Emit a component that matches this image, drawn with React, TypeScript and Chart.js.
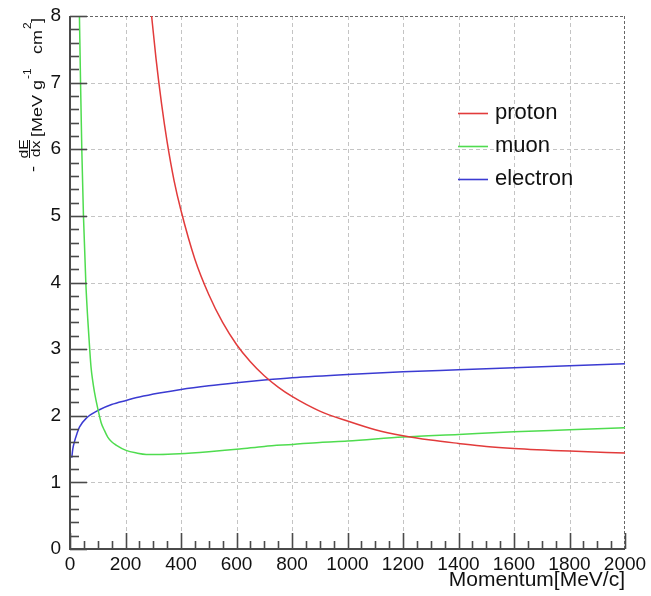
import React, { useEffect, useRef } from 'react';
import { Chart, registerables } from 'chart.js';

Chart.register(...registerables);

// ---- data ----
const protonP = [290, 310, 330, 350, 375, 400, 450, 500, 550, 600, 650, 700, 750, 800, 900, 1000, 1100, 1200, 1300, 1400, 1500, 1600, 1800, 2000];
const protonDEdx = [8.17, 7.36, 6.68, 6.11, 5.53, 5.08, 4.35, 3.82, 3.4, 3.07, 2.81, 2.6, 2.43, 2.29, 2.07, 1.92, 1.79, 1.7, 1.635, 1.585, 1.54, 1.51, 1.47, 1.44];

const muonP = [34, 38, 42.5, 48.5, 57, 64, 71, 76, 82, 88, 100, 112, 124, 136, 150, 166, 202, 240, 275, 322, 395, 500, 611, 700, 803, 900, 1000, 1200, 1400, 1600, 1800, 2000];
const muonDEdx = [8.0, 7.0, 6.0, 5.0, 4.0, 3.45, 3.0, 2.72, 2.52, 2.36, 2.11, 1.9, 1.78, 1.68, 1.61, 1.56, 1.48, 1.44, 1.42, 1.42, 1.43, 1.46, 1.5, 1.54, 1.57, 1.6, 1.62, 1.68, 1.72, 1.76, 1.79, 1.82];

const electronP = [6.5, 10, 16, 25, 34, 58, 106, 150, 202, 250, 322, 400, 500, 600, 700, 800, 1000, 1200, 1400, 1600, 1800, 2000];
const electronDEdx = [1.37, 1.5, 1.61, 1.73, 1.83, 1.96, 2.09, 2.17, 2.23, 2.28, 2.34, 2.395, 2.45, 2.495, 2.535, 2.57, 2.62, 2.66, 2.69, 2.72, 2.75, 2.78];

const seriesLabels = ['proton', 'muon', 'electron'];
const seriesColors = ['#e23b3b', '#4fdc4f', '#3b3bd2'];

const xMin = 0, xMax = 2000, xMajor = 200, xMinor = 50;
const yMin = 0, yMax = 8, yMajor = 1, yMinor = 0.2;

const FONT = '"Liberation Sans", Arial, Helvetica, sans-serif';

const toPts = (xs: number[], ys: number[]) => xs.map((x, i) => ({ x, y: ys[i] }));

const rootFrame = {
  id: 'rootFrame',
  beforeDatasetsDraw(chart: any) {
    const { ctx, chartArea: a, scales } = chart;
    const x = scales.x, y = scales.y;
    ctx.save();
    ctx.lineWidth = 1;
    ctx.strokeStyle = '#c4c4c4';
    ctx.setLineDash([4, 3]);
    for (let v = xMin + xMajor; v < xMax; v += xMajor) {
      const px = Math.round(x.getPixelForValue(v)) + 0.5;
      ctx.beginPath(); ctx.moveTo(px, a.top); ctx.lineTo(px, a.bottom); ctx.stroke();
    }
    for (let v = yMin + yMajor; v < yMax; v += yMajor) {
      const py = Math.round(y.getPixelForValue(v)) + 0.5;
      ctx.beginPath(); ctx.moveTo(a.left, py); ctx.lineTo(a.right, py); ctx.stroke();
    }
    ctx.strokeStyle = '#666';
    ctx.setLineDash([3, 2]);
    const top = Math.round(y.getPixelForValue(yMax)) + 0.5;
    const right = Math.round(x.getPixelForValue(xMax)) - 0.5;
    ctx.beginPath(); ctx.moveTo(a.left, top); ctx.lineTo(a.right, top); ctx.stroke();
    ctx.beginPath(); ctx.moveTo(right, a.top); ctx.lineTo(right, a.bottom); ctx.stroke();
    ctx.restore();
  },
  afterDatasetsDraw(chart: any) {
    const { ctx, chartArea: a, scales } = chart;
    const x = scales.x, y = scales.y;
    ctx.save();
    ctx.setLineDash([]);
    ctx.strokeStyle = '#4a4a4a';
    ctx.lineWidth = 2;
    const left = Math.round(x.getPixelForValue(xMin));
    const bottom = Math.round(y.getPixelForValue(yMin));
    ctx.beginPath(); ctx.moveTo(left, a.top); ctx.lineTo(left, bottom); ctx.lineTo(a.right, bottom); ctx.stroke();
    ctx.lineWidth = 1.6;
    for (let i = 0; i <= Math.round((yMax - yMin) / yMinor); i++) {
      const v = yMin + i * yMinor;
      const isMajor = Math.abs(v / yMajor - Math.round(v / yMajor)) < 1e-6;
      const py = Math.round(y.getPixelForValue(v)) + 0.5;
      ctx.beginPath(); ctx.moveTo(left, py); ctx.lineTo(left + (isMajor ? 17 : 9), py); ctx.stroke();
    }
    for (let i = 0; i <= Math.round((xMax - xMin) / xMinor); i++) {
      const v = xMin + i * xMinor;
      const isMajor = v % xMajor === 0;
      const px = Math.round(x.getPixelForValue(v)) + 0.5;
      ctx.beginPath(); ctx.moveTo(px, bottom); ctx.lineTo(px, bottom - (isMajor ? 16 : 8)); ctx.stroke();
    }
    ctx.restore();
  },
  afterDraw(chart: any) {
    const { ctx } = chart;
    ctx.save();
    const rows = [113, 146, 179];
    chart.data.datasets.forEach((ds: any, i: number) => {
      ctx.strokeStyle = ds.borderColor;
      ctx.lineWidth = 1.6;
      ctx.beginPath(); ctx.moveTo(458, rows[i] + 0.5); ctx.lineTo(488, rows[i] + 0.5); ctx.stroke();
      ctx.fillStyle = '#111';
      ctx.font = `22px ${FONT}`;
      ctx.textBaseline = 'middle';
      ctx.textAlign = 'left';
      ctx.fillText(ds.label, 495, rows[i]);
    });
    ctx.restore();

    // y-axis title:  - dE/dx [MeV g^-1 cm^2]
    ctx.save();
    ctx.translate(41.5, 172);
    ctx.rotate(-Math.PI / 2);
    ctx.fillStyle = '#111';
    ctx.strokeStyle = '#111';
    ctx.textBaseline = 'alphabetic';
    const sx = 1.2;
    const put = (text: string, u: number, v: number, size: number, align: CanvasTextAlign = 'left') => {
      ctx.save();
      ctx.translate(u, v);
      ctx.scale(sx, 1);
      ctx.font = `${size}px ${FONT}`;
      ctx.textAlign = align;
      ctx.fillText(text, 0, 0);
      const w = ctx.measureText(text).width * sx;
      ctx.restore();
      return w;
    };
    put('-', 0, -4, 15);
    put('dE', 23, -13.5, 13, 'center');
    put('dx', 23, -1.5, 13, 'center');
    ctx.lineWidth = 1;
    ctx.beginPath(); ctx.moveTo(14, -12); ctx.lineTo(32, -12); ctx.stroke();
    let u = 35;
    u += put('[MeV g', u, 0, 15);
    u += 1;
    u += put('-1', u, -10.5, 10);
    u = 118;
    u += put('cm', u, 0, 15);
    u += 1;
    put('2', u, -10.5, 10);
    put(']', u + 6, 0, 15);
    ctx.restore();
  },
};

export default function App() {
  const ref = useRef<HTMLCanvasElement>(null);
  useEffect(() => {
    document.body.style.margin = '0';
    const canvas = ref.current!;
    const chart = new Chart(canvas, {
      type: 'line',
      data: {
        datasets: [
          { label: seriesLabels[0], data: toPts(protonP, protonDEdx), borderColor: seriesColors[0] },
          { label: seriesLabels[1], data: toPts(muonP, muonDEdx), borderColor: seriesColors[1] },
          { label: seriesLabels[2], data: toPts(electronP, electronDEdx), borderColor: seriesColors[2] },
        ].map((d) => ({
          ...d,
          borderWidth: 1.5,
          pointRadius: 0,
          fill: false,
          cubicInterpolationMode: 'monotone' as const,
        })),
      },
      options: {
        responsive: false,
        animation: false,
        events: [],
        layout: { padding: { left: 0, top: 16, right: 26, bottom: 0 } },
        plugins: { legend: { display: false }, tooltip: { enabled: false }, title: { display: false } },
        scales: {
          x: {
            type: 'linear',
            min: xMin,
            max: xMax,
            grid: { display: false, drawTicks: false },
            border: { display: false },
            ticks: {
              stepSize: xMajor,
              padding: 4,
              color: '#111',
              font: { family: FONT, size: 19 },
              maxRotation: 0,
              autoSkip: false,
              callback: (v: any) => String(v),
            },
            title: {
              display: true,
              text: 'Momentum[MeV/c]',
              align: 'end',
              color: '#111',
              font: { family: FONT, size: 21 },
              padding: { top: 0, bottom: 3 },
            },
            afterFit: (s: any) => { s.height = 47; s.paddingLeft = 0; s.paddingRight = 0; },
          },
          y: {
            type: 'linear',
            min: yMin,
            max: yMax,
            grid: { display: false, drawTicks: false },
            border: { display: false },
            ticks: {
              stepSize: yMajor,
              padding: 9,
              color: '#111',
              font: { family: FONT, size: 19 },
              callback: (v: any) => String(v),
            },
            afterFit: (s: any) => { s.width = 70; s.paddingTop = 0; s.paddingBottom = 0; },
          },
        },
      },
      plugins: [rootFrame],
    } as any);
    return () => chart.destroy();
  }, []);
  return (
    <div style={{ position: 'absolute', left: 0, top: 0, width: 651, height: 596, background: '#fff' }}>
      <canvas ref={ref} width={651} height={596} style={{ display: 'block' }} />
    </div>
  );
}
